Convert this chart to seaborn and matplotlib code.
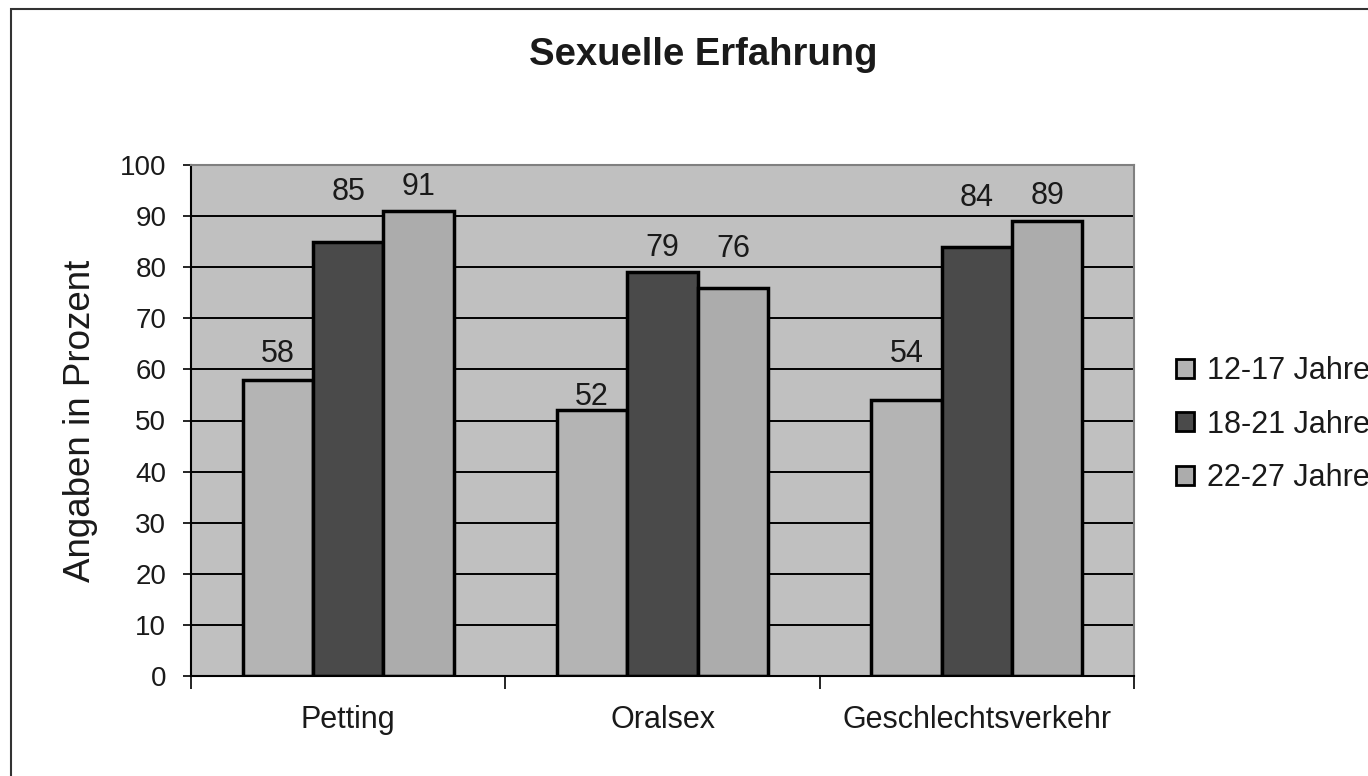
import pandas as pd
import matplotlib
matplotlib.use("Agg")
import matplotlib.pyplot as plt
import seaborn as sns
from matplotlib.patches import Rectangle, Patch

# chart data
categories = ["Petting", "Oralsex", "Geschlechtsverkehr"]
groups = ["12-17 Jahre", "18-21 Jahre", "22-27 Jahre"]
values_12_17 = [58, 52, 54]
values_18_21 = [85, 79, 84]
values_22_27 = [91, 76, 89]
y_ticks = [0, 10, 20, 30, 40, 50, 60, 70, 80, 90, 100]

colors = ["#b4b4b4", "#4a4a4a", "#acacac"]
# label distance above each bar (points), as placed in the original
label_pad = [[8, -1, 22.5], [25, 7, 24], [6.5, 17, 7.5]]

df = pd.DataFrame({
    "Kategorie": categories * 3,
    "Gruppe": [g for g in groups for _ in categories],
    "Wert": values_12_17 + values_18_21 + values_22_27,
})

sns.set_style("white")
plt.rcParams["font.family"] = ["Liberation Sans", "DejaVu Sans"]
plt.rcParams["text.color"] = "#1a1a1a"

fig = plt.figure(figsize=(13.68, 7.76), dpi=100)
ax = fig.add_axes([191 / 1368, 1 - 676 / 776, (1134 - 191) / 1368, (676 - 165) / 776])
ax.set_facecolor("#c0c0c0")

sns.barplot(data=df, x="Kategorie", y="Wert", hue="Gruppe", hue_order=groups,
            order=categories, palette=colors, width=0.672, gap=0,
            edgecolor="black", linewidth=2.5, saturation=1, legend=False, ax=ax)

ax.set_ylim(0, 100)
ax.set_xlim(-0.5, 2.5)
ax.set_yticks(y_ticks)
ax.tick_params(axis="y", labelsize=20, length=5.8, width=1.2, color="black", pad=12,
               left=True, labelcolor="#1a1a1a")
ax.yaxis.grid(True, color="black", linewidth=1.4)
ax.set_axisbelow(True)

# category boundaries as ticks, names centered between them
ax.set_xticks([-0.5, 0.5, 1.5, 2.5])
ax.set_xticklabels([])
ax.tick_params(axis="x", which="major", length=9, width=1.2, color="black", bottom=True)
ax.set_xticks([0, 1, 2], minor=True)
ax.set_xticklabels(categories, minor=True, fontsize=22, color="#1a1a1a")
ax.tick_params(axis="x", which="minor", length=0, pad=21)

# value labels, positioned per bar
for cont, pads in zip(ax.containers, label_pad):
    for bar, pad in zip(cont, pads):
        ax.annotate(f"{bar.get_height():.0f}",
                    (bar.get_x() + bar.get_width() / 2, bar.get_height()),
                    xytext=(0, pad), textcoords="offset points",
                    ha="center", va="bottom", fontsize=22, color="#1a1a1a")

ax.set_xlabel("")
ax.set_ylabel("Angaben in Prozent", fontsize=26.5, labelpad=16, color="#1a1a1a")
fig.text(703 / 1368, 1 - 55 / 776, "Sexuelle Erfahrung", fontsize=27.5,
         fontweight="bold", ha="center", va="center", color="#1a1a1a")

for side in ["left", "bottom"]:
    ax.spines[side].set_color("black")
    ax.spines[side].set_linewidth(1.5)
for side in ["top", "right"]:
    ax.spines[side].set_color("#808080")
    ax.spines[side].set_linewidth(1.5)

handles = [Patch(facecolor=c, edgecolor="black", linewidth=2) for c in colors]
fig.legend(handles, groups, loc="upper left", bbox_to_anchor=(1176 / 1368, 1 - 356 / 776),
           frameon=False, fontsize=22, handlelength=0.58, handleheight=0.58,
           handletextpad=0.45, labelspacing=0.77, borderaxespad=0, borderpad=0)

# outer frame around the chart (cut at right and bottom)
fig.patches.append(Rectangle((11 / 1368, -0.1), 1.2, 1 - 9 / 776 + 0.1,
                             transform=fig.transFigure, fill=False,
                             edgecolor="#333333", linewidth=1.5))

fig.savefig("out.png", dpi=100)
